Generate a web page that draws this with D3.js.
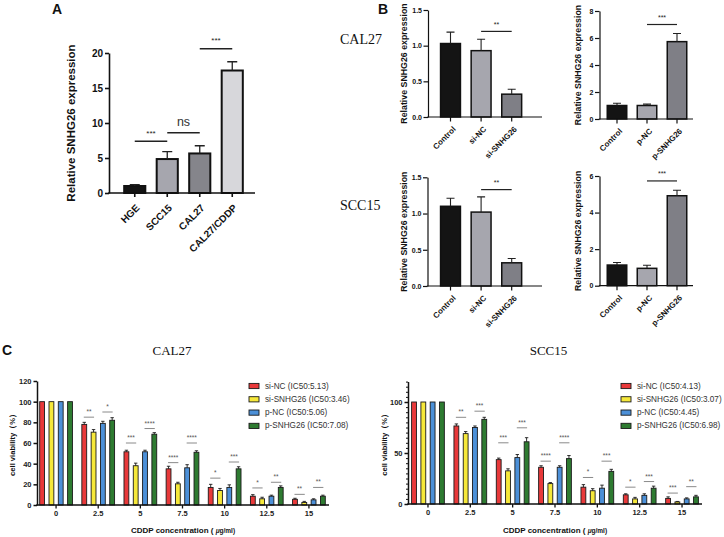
<!DOCTYPE html>
<html><head><meta charset="utf-8">
<script src="https://cdn.jsdelivr.net/npm/d3@7"></script>
<style>
html,body{margin:0;padding:0;background:#fff;}
svg{display:block;}
</style></head><body>
<svg id="fig" width="724" height="537"></svg>
<script>
// ---------------- Panel A data ----------------
const aCategories = ["HGE","SCC15","CAL27","CAL27/CDDP"];
const aValues = [1.0, 4.85, 5.65, 17.5];
const aErrors = [0.2, 1.05, 1.1, 1.25];
const aTicks = [0,5,10,15,20];
const aSigPairs = [[0,1],[1,2],[2,3]];
const aSigLabels = ["***","ns","***"];
const aSigLevels = [7.4, 8.6, 20.6];

// ---------------- Panel B data ----------------
const bKnockdownCategories = ["Control","si-NC","si-SNHG26"];
const bOverexpCategories = ["Control","p-NC","p-SNHG26"];
const bCal27Knockdown = [1.03, 0.93, 0.32];
const bCal27KnockdownErr = [0.16, 0.16, 0.07];
const bCal27Overexp = [1.0, 1.0, 5.73];
const bCal27OverexpErr = [0.17, 0.1, 0.6];
const bScc15Knockdown = [1.10, 1.02, 0.32];
const bScc15KnockdownErr = [0.11, 0.21, 0.06];
const bScc15Overexp = [1.13, 0.95, 4.92];
const bScc15OverexpErr = [0.14, 0.17, 0.3];
const bKnockdownTicks = [0, 0.5, 1.0, 1.5];
const bCal27OverTicks = [0, 2, 4, 6, 8];
const bScc15OverTicks = [0, 2, 4, 6];
const bCal27KnockdownSig = ["**", 1.2];
const bCal27OverexpSig = ["***", 7.0];
const bScc15KnockdownSig = ["**", 1.33];
const bScc15OverexpSig = ["***", 5.73];
const bRowLabels = ["CAL27","SCC15"];

// ---------------- Panel C data ----------------
const concentrations = ["0","2.5","5","7.5","10","12.5","15"];
const seriesNames = ["si-NC","si-SNHG26","p-NC","p-SNHG26"];
const cal27IC50 = ["5.13","3.46","5.06","7.08"];
const scc15IC50 = ["4.13","3.07","4.45","6.98"];

const cal27SiNC     = [100, 78, 51.5, 35, 17, 8.5, 5.5];
const cal27SiSNHG26 = [100, 70.5, 38, 20.5, 14, 6, 2.5];
const cal27PNC      = [100, 79, 51.5, 36, 17, 8.5, 5];
const cal27PSNHG26  = [100, 82, 68.5, 51, 35, 17, 8.5];
const cal27SiNCErr     = [0, 2, 1.5, 2.5, 3, 1.5, 1];
const cal27SiSNHG26Err = [0, 2.5, 2.5, 1.5, 2, 1.5, 1];
const cal27PNCErr      = [0, 2, 1.5, 3, 2.5, 1, 1];
const cal27PSNHG26Err  = [0, 2.5, 1.5, 1.5, 2, 1.5, 1];
const cal27SigSiLabels = ["","**","***","****","*","*","**"];
const cal27SigSiLevels = [null, 85, 60, 41, 26, 16.5, 10.3];
const cal27SigPLabels  = ["","*","****","****","***","**","**"];
const cal27SigPLevels  = [null, 90, 74, 60, 41.6, 22, 17];

const scc15SiNC     = [100, 76.5, 43.5, 36, 16.5, 9, 5.5];
const scc15SiSNHG26 = [100, 69, 32.5, 20, 13, 5, 2];
const scc15PNC      = [100, 75, 45.5, 36, 15.5, 8.5, 5];
const scc15PSNHG26  = [100, 83, 61, 44.5, 32, 15.5, 7];
const scc15SiNCErr     = [0, 2, 1.5, 1.5, 2.5, 1, 1.5];
const scc15SiSNHG26Err = [0, 2, 2, 1, 2, 1.5, 0.5];
const scc15PNCErr      = [0, 1.5, 3, 1.5, 3, 1.5, 1];
const scc15PSNHG26Err  = [0, 2, 4, 3, 2, 2, 1.5];
const scc15SigSiLabels = ["","**","***","****","*","*","***"];
const scc15SigSiLevels = [null, 85, 60, 42, 26, 16.5, 10.7];
const scc15SigPLabels  = ["","***","***","****","***","***","**"];
const scc15SigPLevels  = [null, 91, 74.7, 60, 42, 22, 17];

const cal27Ticks = [0,20,40,60,80,100,120];
const scc15MajorTicks = [0,50,100];
const scc15MinorTicks = d3.range(0, 121, 5);

// ---------------- styles ----------------
const SANS = "'Liberation Sans', Arial, Helvetica, sans-serif";
const SERIF = "'Liberation Serif', 'Times New Roman', serif";
const aColors = ["#141414","#a6a6ae","#85858b","#d7d7db"];
const bColors = ["#141414","#a6a6ae","#7f7f86"];
const seriesColors = ["#e8393a","#f6e83a","#4c90d8","#2e7b31"];

const svg = d3.select("#fig");
svg.append("rect").attr("width",724).attr("height",537).attr("fill","#fff");

function txt(x, y, s, size, opts = {}) {
  return svg.append("text").attr("x", x).attr("y", y)
    .attr("font-family", opts.family || SANS)
    .attr("font-weight", opts.weight || "normal")
    .attr("font-size", size)
    .attr("fill", opts.fill || "#111")
    .attr("text-anchor", opts.anchor || "start")
    .text(s);
}

// ---------------- simple bar chart (A, B) ----------------
function simpleBarChart(cfg) {
  const g = svg.append("g");
  const x = d3.scaleBand().domain(cfg.categories).range(cfg.bandRange)
    .paddingInner(0.35).paddingOuter(0.175);
  const y = d3.scaleLinear().domain([0, cfg.yMax]).range(cfg.yRange);
  const cx = c => x(c) + x.bandwidth() / 2;

  g.selectAll("rect.bar").data(cfg.values).join("rect")
    .attr("x", (d, i) => x(cfg.categories[i]))
    .attr("y", d => y(d))
    .attr("width", x.bandwidth())
    .attr("height", d => y(0) - y(d))
    .attr("fill", (d, i) => cfg.colors[i])
    .attr("stroke", "#111").attr("stroke-width", cfg.barStroke);

  g.selectAll("path.err").data(cfg.values).join("path")
    .attr("d", (d, i) => {
      const xc = cx(cfg.categories[i]), y1 = y(d), y2 = y(d + cfg.errors[i]);
      return `M${xc},${y1}V${y2}M${xc - cfg.cap},${y2}H${xc + cfg.cap}`;
    })
    .attr("stroke", "#222").attr("stroke-width", cfg.errStroke).attr("fill", "none");

  const ya = g.append("g").attr("transform", `translate(${cfg.axisX},0)`)
    .call(d3.axisLeft(y).tickValues(cfg.ticks).tickSize(cfg.tickLen).tickSizeOuter(0)
      .tickPadding(cfg.tickPad).tickFormat(cfg.format));
  ya.selectAll("path,line").attr("stroke", "#111").attr("stroke-width", cfg.axisStroke);
  ya.selectAll("text").attr("font-family", SANS).attr("font-weight", "bold")
    .attr("font-size", cfg.tickFont).attr("fill", "#111");

  g.append("line").attr("x1", cfg.axisX - cfg.axisStroke / 2).attr("x2", cfg.axisEnd)
    .attr("y1", y(0)).attr("y2", y(0))
    .attr("stroke", "#111").attr("stroke-width", cfg.axisStroke);
  g.selectAll("line.xt").data(cfg.categories).join("line")
    .attr("x1", c => cx(c)).attr("x2", c => cx(c))
    .attr("y1", y(0)).attr("y2", y(0) + cfg.tickLen)
    .attr("stroke", "#111").attr("stroke-width", cfg.axisStroke);

  g.selectAll("text.xl").data(cfg.categories).join("text")
    .attr("transform", c => `translate(${cx(c) + cfg.xlabDx},${y(0) + cfg.xlabDy}) rotate(-45)`)
    .attr("text-anchor", "end").attr("dominant-baseline", "central")
    .attr("font-family", SANS).attr("font-weight", "bold")
    .attr("font-size", cfg.xlabFont).attr("fill", "#111")
    .text(c => c);

  g.append("text")
    .attr("transform", `translate(${cfg.ytitleX},${(cfg.yRange[0] + cfg.yRange[1]) / 2}) rotate(-90)`)
    .attr("text-anchor", "middle").attr("dominant-baseline", "central")
    .attr("font-family", SANS).attr("font-weight", "bold")
    .attr("font-size", cfg.ytitleFont).attr("fill", "#111")
    .text("Relative SNHG26 expression");

  cfg.sig.forEach(s => {
    const x1 = cx(cfg.categories[s.pair[0]]), x2 = cx(cfg.categories[s.pair[1]]);
    g.append("line").attr("x1", x1).attr("x2", x2).attr("y1", y(s.level)).attr("y2", y(s.level))
      .attr("stroke", "#222").attr("stroke-width", cfg.sigStroke);
    const isNs = s.label === "ns";
    g.append("text").attr("x", (x1 + x2) / 2)
      .attr("y", y(s.level) - (isNs ? cfg.nsGap : cfg.starGap))
      .attr("text-anchor", "middle").attr("font-family", SANS)
      .attr("font-size", isNs ? cfg.nsFont : cfg.starFont)
      .attr("fill", isNs ? "#333" : "#222")
      .text(s.label);
  });
}

// Panel A
txt(52, 13.5, "A", 14, {weight: "bold"});
simpleBarChart({
  categories: aCategories, values: aValues, errors: aErrors, colors: aColors,
  yMax: 20, yRange: [193, 53], ticks: aTicks, format: d3.format("d"),
  bandRange: [118.5, 248.5], axisX: 109, axisEnd: 255,
  barStroke: 2, errStroke: 1.3, cap: 5, axisStroke: 1.6, tickLen: 4, tickPad: 2, tickFont: 10,
  xlabDx: 3, xlabDy: 13, xlabFont: 10, ytitleX: 71, ytitleFont: 11.5,
  sigStroke: 1.5, starFont: 8, starGap: 5.5, nsFont: 12.5, nsGap: 7,
  sig: aSigPairs.map((p, i) => ({pair: p, label: aSigLabels[i], level: aSigLevels[i]}))
});

// Panel B
txt(378, 13.5, "B", 14, {weight: "bold"});
txt(340, 44, bRowLabels[0], 14, {family: SERIF});
txt(340, 210, bRowLabels[1], 14, {family: SERIF});

const bCommon = {
  barStroke: 1.5, errStroke: 1.1, cap: 4, axisStroke: 1.2, tickLen: 4.5, tickPad: 1.5, tickFont: 7,
  xlabDx: 4, xlabDy: 11, xlabFont: 8, ytitleFont: 8.8,
  sigStroke: 1.2, starFont: 7, starGap: 4.5, nsFont: 10, nsGap: 5
};
simpleBarChart(Object.assign({}, bCommon, {
  categories: bKnockdownCategories, values: bCal27Knockdown, errors: bCal27KnockdownErr, colors: bColors,
  yMax: 1.5, yRange: [117, 10], ticks: bKnockdownTicks, format: d3.format(".1f"),
  bandRange: [435.2, 527], axisX: 428, axisEnd: 542, ytitleX: 403.5,
  sig: [{pair: [1, 2], label: bCal27KnockdownSig[0], level: bCal27KnockdownSig[1]}]
}));
simpleBarChart(Object.assign({}, bCommon, {
  categories: bOverexpCategories, values: bCal27Overexp, errors: bCal27OverexpErr, colors: bColors,
  yMax: 8, yRange: [119, 11], ticks: bCal27OverTicks, format: d3.format("d"),
  bandRange: [602, 692], axisX: 599.5, axisEnd: 693, ytitleX: 578,
  sig: [{pair: [1, 2], label: bCal27OverexpSig[0], level: bCal27OverexpSig[1]}]
}));
simpleBarChart(Object.assign({}, bCommon, {
  categories: bKnockdownCategories, values: bScc15Knockdown, errors: bScc15KnockdownErr, colors: bColors,
  yMax: 1.5, yRange: [286, 177.3], ticks: bKnockdownTicks, format: d3.format(".1f"),
  bandRange: [435.2, 527], axisX: 427.5, axisEnd: 542, ytitleX: 403.5,
  sig: [{pair: [1, 2], label: bScc15KnockdownSig[0], level: bScc15KnockdownSig[1]}]
}));
simpleBarChart(Object.assign({}, bCommon, {
  categories: bOverexpCategories, values: bScc15Overexp, errors: bScc15OverexpErr, colors: bColors,
  yMax: 6, yRange: [285.7, 176], ticks: bScc15OverTicks, format: d3.format("d"),
  bandRange: [602, 692], axisX: 599.5, axisEnd: 693, ytitleX: 578,
  sig: [{pair: [1, 2], label: bScc15OverexpSig[0], level: bScc15OverexpSig[1]}]
}));

// ---------------- grouped chart (C) ----------------
function groupedChart(cfg) {
  const g = svg.append("g");
  const x0 = d3.scaleBand().domain(concentrations).range(cfg.bandRange).padding(0);
  const half = 18.6, mid = x0.bandwidth() / 2;
  const x1 = d3.scaleBand().domain(seriesNames).range([mid - half, mid + half])
    .paddingInner(0.48).paddingOuter(0.24);
  const y = d3.scaleLinear().domain([0, 120]).range(cfg.yRange);
  const bc = n => x1(n) + x1.bandwidth() / 2;

  const rows = concentrations.map((c, i) => ({
    c, i,
    vals: cfg.series.map((s, k) => ({name: seriesNames[k], k, v: s[i], e: cfg.errors[k][i]}))
  }));
  const grp = g.selectAll("g.grp").data(rows).join("g")
    .attr("transform", d => `translate(${x0(d.c)},0)`);
  grp.selectAll("rect").data(d => d.vals).join("rect")
    .attr("x", d => x1(d.name)).attr("width", x1.bandwidth())
    .attr("y", d => y(d.v)).attr("height", d => y(0) - y(d.v))
    .attr("fill", d => seriesColors[d.k]).attr("stroke", "#1a1a1a").attr("stroke-width", 0.9);
  grp.selectAll("path.err").data(d => d.vals.filter(v => v.e > 0)).join("path")
    .attr("d", d => {
      const xc = bc(d.name), y1 = y(d.v), y2 = y(d.v + d.e);
      return `M${xc},${y1}V${y2}M${xc - 1.7},${y2}H${xc + 1.7}`;
    })
    .attr("stroke", "#1a1a1a").attr("stroke-width", 0.9).attr("fill", "none");

  // significance marks
  const sigSets = [
    {a: 0, b: 1, labels: cfg.sigSiLabels, levels: cfg.sigSiLevels},
    {a: 2, b: 3, labels: cfg.sigPLabels, levels: cfg.sigPLevels}
  ];
  sigSets.forEach(set => {
    concentrations.forEach((c, i) => {
      if (!set.labels[i]) return;
      const xa = x0(c) + bc(seriesNames[set.a]), xb = x0(c) + bc(seriesNames[set.b]);
      const yy = y(set.levels[i]);
      g.append("line").attr("x1", xa - 0.5).attr("x2", xb + 0.5).attr("y1", yy).attr("y2", yy)
        .attr("stroke", "#8a8a8a").attr("stroke-width", 1);
      g.append("text").attr("x", (xa + xb) / 2).attr("y", yy - 3)
        .attr("text-anchor", "middle").attr("font-family", SANS).attr("font-size", 6.5)
        .attr("fill", "#555").text(set.labels[i]);
    });
  });

  // y axis
  if (cfg.minorTicks) {
    const mi = g.append("g").attr("transform", `translate(${cfg.axisX},0)`)
      .call(d3.axisLeft(y).tickValues(cfg.minorTicks).tickSize(2).tickSizeOuter(0).tickFormat(""));
    mi.selectAll("path,line").attr("stroke", "#111").attr("stroke-width", 1);
  }
  const ya = g.append("g").attr("transform", `translate(${cfg.axisX},0)`)
    .call(d3.axisLeft(y).tickValues(cfg.ticks).tickSize(3.5).tickSizeOuter(0).tickPadding(2).tickFormat(d3.format("d")));
  ya.selectAll("path,line").attr("stroke", "#111").attr("stroke-width", 1.5);
  ya.selectAll("text").attr("font-family", SANS).attr("font-weight", "bold")
    .attr("font-size", 7.5).attr("fill", "#222");

  // x axis
  g.append("line").attr("x1", cfg.axisX - 0.75).attr("x2", cfg.axisEnd)
    .attr("y1", y(0)).attr("y2", y(0)).attr("stroke", "#111").attr("stroke-width", 1.5);
  const xa = g.append("g").attr("transform", `translate(0,${y(0)})`)
    .call(d3.axisBottom(x0).tickSize(3.5).tickSizeOuter(0).tickPadding(2));
  xa.select(".domain").remove();
  xa.selectAll("line").attr("stroke", "#111").attr("stroke-width", 1.3);
  xa.selectAll("text").attr("font-family", SANS).attr("font-weight", "bold")
    .attr("font-size", 7.5).attr("fill", "#222");

  // titles
  txt(cfg.titleX, 355, cfg.title, 13, {family: SERIF, anchor: "middle"});
  g.append("text")
    .attr("transform", `translate(${cfg.ytitleX},${(cfg.yRange[0] + y(120)) / 2}) rotate(-90)`)
    .attr("text-anchor", "middle").attr("dominant-baseline", "central")
    .attr("font-family", SANS).attr("font-weight", "bold").attr("font-size", 7.6).attr("fill", "#111")
    .text("cell viability（%）");
  const xt = g.append("text").attr("x", cfg.xtitleX).attr("y", 533)
    .attr("text-anchor", "middle").attr("font-family", SANS).attr("font-weight", "bold")
    .attr("font-size", 8).attr("fill", "#111");
  xt.append("tspan").text("CDDP concentration ( ");
  xt.append("tspan").attr("font-size", 6.5).attr("font-style", "italic").text("μ");
  xt.append("tspan").attr("font-size", 6.5).text("g/ml)");

  // legend
  const lg = g.selectAll("g.lg").data(seriesNames).join("g")
    .attr("transform", (d, k) => `translate(${cfg.legendX},${386 + k * 13.3})`);
  lg.append("rect").attr("x", 0).attr("y", -2.6).attr("width", 10).attr("height", 5.2)
    .attr("fill", (d, k) => seriesColors[k]).attr("stroke", "#1a1a1a").attr("stroke-width", 0.9);
  lg.append("text").attr("x", 16).attr("y", 0).attr("dominant-baseline", "central")
    .attr("font-family", SANS).attr("font-size", 8.2).attr("fill", "#333")
    .text((d, k) => `${d} (IC50:${cfg.ic50[k]})`);
}

txt(2, 355, "C", 14, {weight: "bold"});
groupedChart({
  title: "CAL27", titleX: 172,
  series: [cal27SiNC, cal27SiSNHG26, cal27PNC, cal27PSNHG26],
  errors: [cal27SiNCErr, cal27SiSNHG26Err, cal27PNCErr, cal27PSNHG26Err],
  sigSiLabels: cal27SigSiLabels, sigSiLevels: cal27SigSiLevels,
  sigPLabels: cal27SigPLabels, sigPLevels: cal27SigPLevels,
  ic50: cal27IC50, ticks: cal27Ticks, minorTicks: null,
  bandRange: [35, 330], axisX: 37, axisEnd: 329, yRange: [505, 381],
  ytitleX: 12, xtitleX: 183, legendX: 249
});
groupedChart({
  title: "SCC15", titleX: 548.5,
  series: [scc15SiNC, scc15SiSNHG26, scc15PNC, scc15PSNHG26],
  errors: [scc15SiNCErr, scc15SiSNHG26Err, scc15PNCErr, scc15PSNHG26Err],
  sigSiLabels: scc15SigSiLabels, sigSiLevels: scc15SigSiLevels,
  sigPLabels: scc15SigPLabels, sigPLevels: scc15SigPLevels,
  ic50: scc15IC50, ticks: scc15MajorTicks, minorTicks: scc15MinorTicks,
  bandRange: [406.8, 703.2], axisX: 408, axisEnd: 702, yRange: [504, 381.6],
  ytitleX: 384, xtitleX: 555, legendX: 621
});
</script>
</body></html>
